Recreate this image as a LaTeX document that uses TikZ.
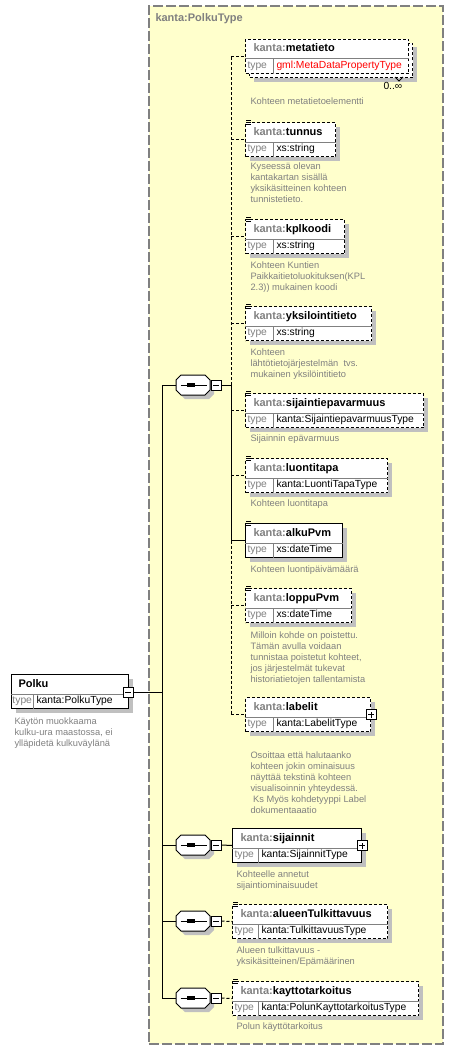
\documentclass[tikz,border=0pt]{standalone}
\usepackage{fontspec}
\setmainfont{Liberation Sans}
\usetikzlibrary{positioning, shadows}
\definecolor{xsyellow}{RGB}{255,255,204}
\definecolor{xsgray}{RGB}{128,128,128}
\definecolor{xsshade}{RGB}{192,192,192}

\begin{document}
\begin{tikzpicture}[x=1pt, y=-1pt, line width=1pt,
    cplx/.style={draw=xsgray, line width=1.6pt, dash pattern=on 10pt off 3pt, fill=xsyellow, anchor=north west, inner sep=0pt},
    shade4/.style={drop shadow={shadow xshift=4pt, shadow yshift=-4pt, fill=xsshade, draw=none, opacity=1}},
    elns/.style={draw, dash pattern=on 3pt off 2pt, fill=white, anchor=north west, inner sep=0pt, minimum height=34pt},
    el/.style={elns, shade4},
    req/.style={el, solid},
    div/.style={xsgray, solid},
    dsh/.style={dash pattern=on 3pt off 2pt},
    hd/.style={anchor=west, inner sep=0pt, font=\bfseries\fontsize{11}{13}\selectfont, text height=8pt, text depth=2pt},
    tv/.style={anchor=west, inner sep=0pt, font=\fontsize{10.3}{12}\selectfont, text height=7.5pt, text depth=2pt},
    tp/.style={tv, text=xsgray},
    doc/.style={anchor=north west, inner sep=0pt, align=left, text=xsgray, font=\fontsize{9.3}{11}\selectfont},
    pm/.style={draw, solid, fill=white, minimum size=10pt, inner sep=0pt},
    minus/.style={pm, path picture={\draw ([xshift=2pt]path picture bounding box.west) -- ([xshift=-2pt]path picture bounding box.east);}},
    plus/.style={pm, path picture={\draw ([xshift=2pt]path picture bounding box.west) -- ([xshift=-2pt]path picture bounding box.east)
        ([yshift=2pt]path picture bounding box.south) -- ([yshift=-2pt]path picture bounding box.north);}},
    seq/.style={rectangle, inner sep=0pt, minimum width=34pt, minimum height=20pt}]
  \useasboundingbox (0,0) rectangle (452,1049);

  % complex type
  \node[cplx, minimum width=294pt, minimum height=1038pt] (polkutype) at (148,5) {};
  \node[hd, text=xsgray] (polkutype-h) at (155,19) {kanta:PolkuType};

  % root element
  \node[req, minimum width=117pt] (Polku) at (11,674) {};
  \draw[div] ([yshift=-20pt]Polku.north west) -- ([yshift=-20pt]Polku.north east)
    ([xshift=22pt,yshift=-20pt]Polku.north west) -- ([xshift=22pt]Polku.south west);
  \node[hd] (Polku-h) at ([xshift=7pt,yshift=-10pt]Polku.north west) {Polku};
  \node[tp] (Polku-t) at ([xshift=1pt,yshift=-27pt]Polku.north west) {type};
  \node[tv] (Polku-v) at ([xshift=25pt,yshift=-27pt]Polku.north west) {kanta:PolkuType};
  \node[doc] (Polku-d) at (14,717.5) {Käytön muokkaama\\kulku-ura maastossa, ei\\ylläpidetä kulkuväylänä};
  \node[minus] (Polku-m) at (128,692) {};

  % metatieto 0..unbounded
  \node[el, minimum width=163pt] (metatieto-b) at (249,43) {};

  % child elements
  \foreach \n/\x/\y/\w/\d/\s/\v in {
      metatieto/245/39/163/28/elns/{\textcolor{red}{gml:MetaDataPropertyType}},
      tunnus/245/122/90/28/el/xs:string,
      kplkoodi/245/219/99/28/el/xs:string,
      yksilointitieto/245/306/126/28/el/xs:string,
      sijaintiepavarmuus/245/393/178/28/el/kanta:SijaintiepavarmuusType,
      luontitapa/245/458/142/28/el/kanta:LuontiTapaType,
      alkuPvm/245/523/97/28/req/xs:dateTime,
      loppuPvm/245/588/106/28/el/xs:dateTime,
      labelit/245/697/125/28/el/kanta:LabelitType,
      sijainnit/232/828/129/26/req/kanta:SijainnitType,
      alueenTulkittavuus/232/904/155/26/el/kanta:TulkittavuusType,
      kayttotarkoitus/232/981/186/26/el/kanta:PolunKayttotarkoitusType}{
    \node[\s, minimum width=\w pt] (\n) at (\x,\y) {};
    \draw[div] ([yshift=-20pt]\n.north west) -- ([yshift=-20pt]\n.north east)
      ([xshift=\d pt,yshift=-20pt]\n.north west) -- ([xshift=\d pt]\n.south west);
    \node[hd] (\n-h) at ([xshift=8pt,yshift=-10pt]\n.north west) {\textcolor{xsgray}{kanta:}\n};
    \node[tp] (\n-t) at ([xshift=2pt,yshift=-27pt]\n.north west) {type};
    \node[tv, xshift=3pt] (\n-v) at ([xshift=\d pt,yshift=-27pt]\n.north west) {\v};
  }

  % simple type marks
  \foreach \n in {tunnus,kplkoodi,yksilointitieto,sijaintiepavarmuus,luontitapa,alkuPvm,loppuPvm,alueenTulkittavuus,kayttotarkoitus}
    \foreach \k in {-2,0,2}
      \draw[line width=0.7pt] ([xshift=1pt]\n.north west) ++(0,\k) -- ++(4.5,0);

  \node[plus] (labelit-p) at (labelit.east) {};
  \node[plus] (sijainnit-p) at (sijainnit.east) {};

  \node[tv] (metatieto-o) at (383,87) {0..∞};
  \draw ([xshift=-18pt,yshift=1pt]metatieto-b.south east) -- ++(4,4) -- ++(4,-4);

  % annotations
  \node[doc] (metatieto-d) at (250,97.5) {Kohteen metatietoelementti};
  \node[doc] (tunnus-d) at (250,162.5) {Kyseessä olevan\\kantakartan sisällä\\yksikäsitteinen kohteen\\tunnistetieto.};
  \node[doc] (kplkoodi-d) at (250,261.5) {Kohteen Kuntien\\Paikkaitietoluokituksen(KPL\\2.3)) mukainen koodi};
  \node[doc] (yksilointitieto-d) at (250,348.5) {Kohteen\\lähtötietojärjestelmän\ \ tvs.\\mukainen yksilöintitieto};
  \node[doc] (sijaintiepavarmuus-d) at (250,434.5) {Sijainnin epävarmuus};
  \node[doc] (luontitapa-d) at (250,499.5) {Kohteen luontitapa};
  \node[doc] (alkuPvm-d) at (250,565.5) {Kohteen luontipäivämäärä};
  \node[doc] (loppuPvm-d) at (250,631.5) {Milloin kohde on poistettu.\\Tämän avulla voidaan\\tunnistaa poistetut kohteet,\\jos järjestelmät tukevat\\historiatietojen tallentamista};
  \node[doc] (labelit-d) at (250,751.5) {Osoittaa että halutaanko\\kohteen jokin ominaisuus\\näyttää tekstinä kohteen\\visualisoinnin yhteydessä.\\\ Ks Myös kohdetyyppi Label\\dokumentaaatio};
  \node[doc] (sijainnit-d) at (236,870.5) {Kohteelle annetut\\sijaintiominaisuudet};
  \node[doc] (alueenTulkittavuus-d) at (236,946.5) {Alueen tulkittavuus -\\yksikäsitteinen/Epämäärinen};
  \node[doc] (kayttotarkoitus-d) at (236,1022.5) {Polun käyttötarkoitus};

  % sequences
  \foreach \s/\y in {1/385,2/845,3/921,4/998}{
    \node[seq] (seq\s) at (193,\y) {};
    \draw[fill=white, shade4, shift={(seq\s.center)}]
      (-12,-10) -- (12,-10) -- (17,-5) -- (17,5) -- (12,10) -- (-12,10) -- (-17,5) -- (-17,-5) -- cycle;
    \draw ([xshift=5pt]seq\s.west) -- ([xshift=-4pt]seq\s.east);
    \foreach \q in {-4.7,-2,0.7}
      \fill ([xshift=\q pt]seq\s.center) ++(-1.3,-1.6) rectangle ++(2.6,3.2);
    \node[minus] (seq\s-m) at (216,\y) {};
  }

  % connectors
  \coordinate (tr) at (162,692);
  \draw (Polku-m.east) -- (tr);
  \draw (tr |- seq1.west) -- (tr |- seq4.west);
  \foreach \s in {1,...,4}
    \draw (tr |- seq\s.west) -- (seq\s.west);

  \coordinate (br) at (231,385);
  \draw (seq1-m.east) -- (br);
  \draw[dsh] (br) -- (br |- metatieto.west);
  \draw (br) -- (br |- alkuPvm.west) -- (alkuPvm.west);
  \draw[dsh] (br |- alkuPvm.west) -- (br |- labelit.west);
  \foreach \n in {metatieto,tunnus,kplkoodi,yksilointitieto,sijaintiepavarmuus,luontitapa,loppuPvm,labelit}
    \draw[dsh] (br |- \n.west) -- (\n.west);

  \draw (seq2-m.east) -- (sijainnit.west);
  \draw[dsh] (seq3-m.east) -- (alueenTulkittavuus.west);
  \draw[dsh] (seq4-m.east) -- (kayttotarkoitus.west);
\end{tikzpicture}
\end{document}
